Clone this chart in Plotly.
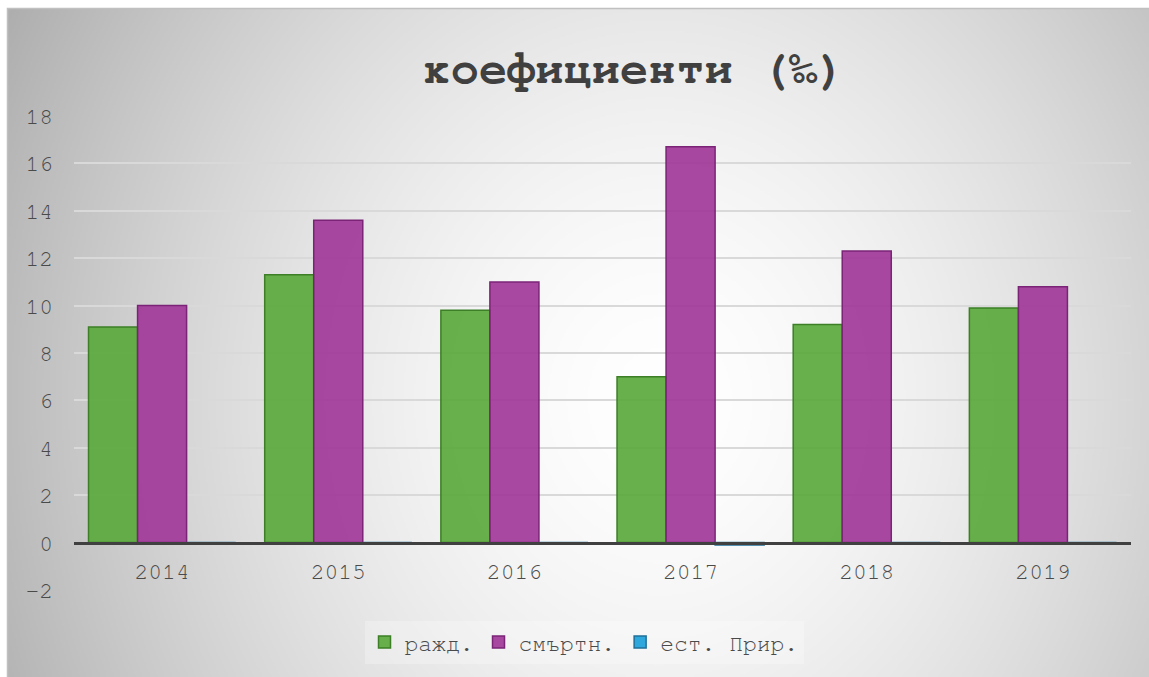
import base64, struct, zlib
import numpy as np
import plotly.graph_objects as go

# ---------------- data ----------------
years = ["2014", "2015", "2016", "2017", "2018", "2019"]
births = [9.1, 11.3, 9.8, 7.0, 9.2, 9.9]          # ражд.
deaths = [10.0, 13.6, 11.0, 16.7, 12.3, 10.8]     # смъртн.
natural = [0, 0, 0, -0.1, 0, 0]                   # ест. Прир.
series_names = ["ражд.", "смъртн.", "ест. Прир."]
title_text = "коефициенти (‰)"
y_ticks = list(range(-2, 19, 2))

# ---------------- geometry (pixels) ----------------
W, H = 1149, 677
L, R, T, B = 74, W - 1131, 116, H - 590
pw, ph = W - L - R, H - T - B


def px_to_paper_x(px):
    return (px - L) / pw


def py_to_paper_y(py):
    return (H - B - py) / ph


# chart area (gradient background)
cx0, cy0, cx1, cy1 = 7, 8, 1149, 677


def make_png_gray(arr):
    h, w = arr.shape
    raw = b"".join(b"\x00" + arr[i].tobytes() for i in range(h))

    def chunk(tag, data):
        c = struct.pack(">I", len(data)) + tag + data
        return c + struct.pack(">I", zlib.crc32(tag + data) & 0xFFFFFFFF)

    png = b"\x89PNG\r\n\x1a\n"
    png += chunk(b"IHDR", struct.pack(">IIBBBBB", w, h, 8, 0, 0, 0, 0))
    png += chunk(b"IDAT", zlib.compress(raw, 9))
    png += chunk(b"IEND", b"")
    return "data:image/png;base64," + base64.b64encode(png).decode()


gw, gh = (cx1 - cx0) // 2, (cy1 - cy0) // 2
xs = np.linspace(cx0, cx1, gw)
ys = np.linspace(cy0, cy1, gh)
X, Y = np.meshgrid(xs, ys)
d = np.sqrt(((X - 660) / 600.0) ** 2 + ((Y - 400) / 680.0) ** 2)
d = np.clip(d, 0, 1.25)
val = 255 - 58 * d ** 1.6
grad = np.clip(val, 0, 255).astype(np.uint8)
grad_uri = make_png_gray(grad)

font_family = "FreeMono, Courier New, monospace"
text_color = "#4a4a4a"

fig = go.Figure()
fig.add_trace(go.Bar(
    x=years, y=births, name=series_names[0],
    marker=dict(color="rgba(90,169,60,0.92)", line=dict(color="#3d7f26", width=1.5)),
))
fig.add_trace(go.Bar(
    x=years, y=deaths, name=series_names[1],
    marker=dict(color="rgba(161,56,152,0.92)", line=dict(color="#7b2477", width=1.5)),
))
fig.add_trace(go.Bar(
    x=years, y=natural, name=series_names[2],
    marker=dict(color="#2ea8dc", line=dict(color="#1f6f98", width=1.5)),
))

fig.update_layout(
    width=W, height=H,
    margin=dict(l=L, r=R, t=T, b=B, pad=0),
    paper_bgcolor="white",
    plot_bgcolor="rgba(0,0,0,0)",
    barmode="group",
    bargap=0.165,
    bargroupgap=0,
    font=dict(family=font_family, size=23, color=text_color),
    title=dict(
        text="<b>" + title_text + "</b>",
        font=dict(family=font_family, size=47, color="#404040"),
        x=px_to_paper_x(634), xref="paper", xanchor="center",
        y=1 - 67 / H, yref="container", yanchor="middle",
    ),
    legend=dict(
        orientation="h",
        x=px_to_paper_x(584), xanchor="center",
        y=py_to_paper_y(642), yanchor="middle",
        bgcolor="rgba(255,255,255,0.25)",
        font=dict(family=font_family, size=23, color=text_color),
    ),
    images=[dict(
        source=grad_uri, xref="paper", yref="paper",
        x=px_to_paper_x(cx0), y=py_to_paper_y(cy0),
        sizex=(cx1 - cx0) / pw, sizey=(cy1 - cy0) / ph,
        xanchor="left", yanchor="top", sizing="stretch", layer="below",
    )],
    shapes=[dict(
        type="rect", xref="paper", yref="paper",
        x0=px_to_paper_x(cx0 + 0.5), x1=px_to_paper_x(cx1 + 2),
        y0=py_to_paper_y(cy1 + 2), y1=py_to_paper_y(cy0 + 0.5),
        line=dict(color="#c0c0c0", width=1.5), fillcolor="rgba(0,0,0,0)", layer="above",
    )],
)

fig.update_yaxes(
    range=[-2, 18], tickvals=y_ticks,
    showgrid=True, gridcolor="#d9d9d9", gridwidth=1.5,
    zeroline=False, showline=False, ticks="",
    ticklabelstandoff=20,
    tickfont=dict(size=23, color=text_color),
)
fig.update_xaxes(
    anchor="free", position=py_to_paper_y(543),
    showline=True, linecolor="#404040", linewidth=3,
    showgrid=False, ticks="", ticklabelstandoff=6,
    tickfont=dict(size=23, color=text_color),
)

fig.write_html(
    "out.html",
    config={"displayModeBar": False},
    post_script="document.body.style.margin='0';document.body.style.overflow='hidden';",
)
